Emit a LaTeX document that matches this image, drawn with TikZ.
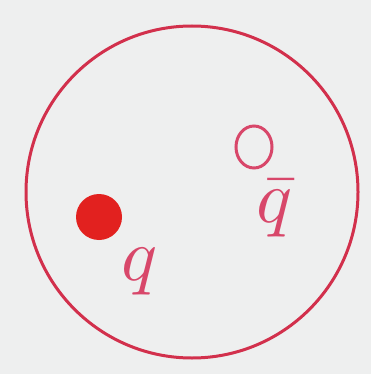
\documentclass[tikz,border=0pt]{standalone}
\usepackage{tikz}
\usetikzlibrary{positioning}
\definecolor{PaperGray}{HTML}{EEEFEF}
\definecolor{RimRed}{HTML}{D2304C}
\definecolor{DotRed}{HTML}{E2211F}
\definecolor{InkPink}{HTML}{D8476A}
\tikzset{
  rim/.style={draw=RimRed, line width=3pt},
  quark/.style={fill=DotRed},
  antiquark/.style={draw=InkPink, line width=3pt},
  qlabel/.style={text=InkPink, scale=7.5, inner sep=0pt}
}
\begin{document}
\begin{tikzpicture}[x=1pt,y=-1pt]
  \fill[PaperGray] (0,0) rectangle (371,374);
  \useasboundingbox (0,0) rectangle (371,374);
  \coordinate (centre) at (192,192);
  \draw[rim] (centre) circle[radius=166];

  \coordinate (q) at (99,217);
  \fill[quark] (q) circle[radius=23];
  \node[qlabel] (qlab) at (140,272) {$q$};

  \coordinate (qbar) at (254,147);
  \draw[antiquark] (qbar) circle[x radius=18, y radius=21];
  \node[qlabel] (qbarlab) at (275,208) {$\bar q$};
\end{tikzpicture}
\end{document}
